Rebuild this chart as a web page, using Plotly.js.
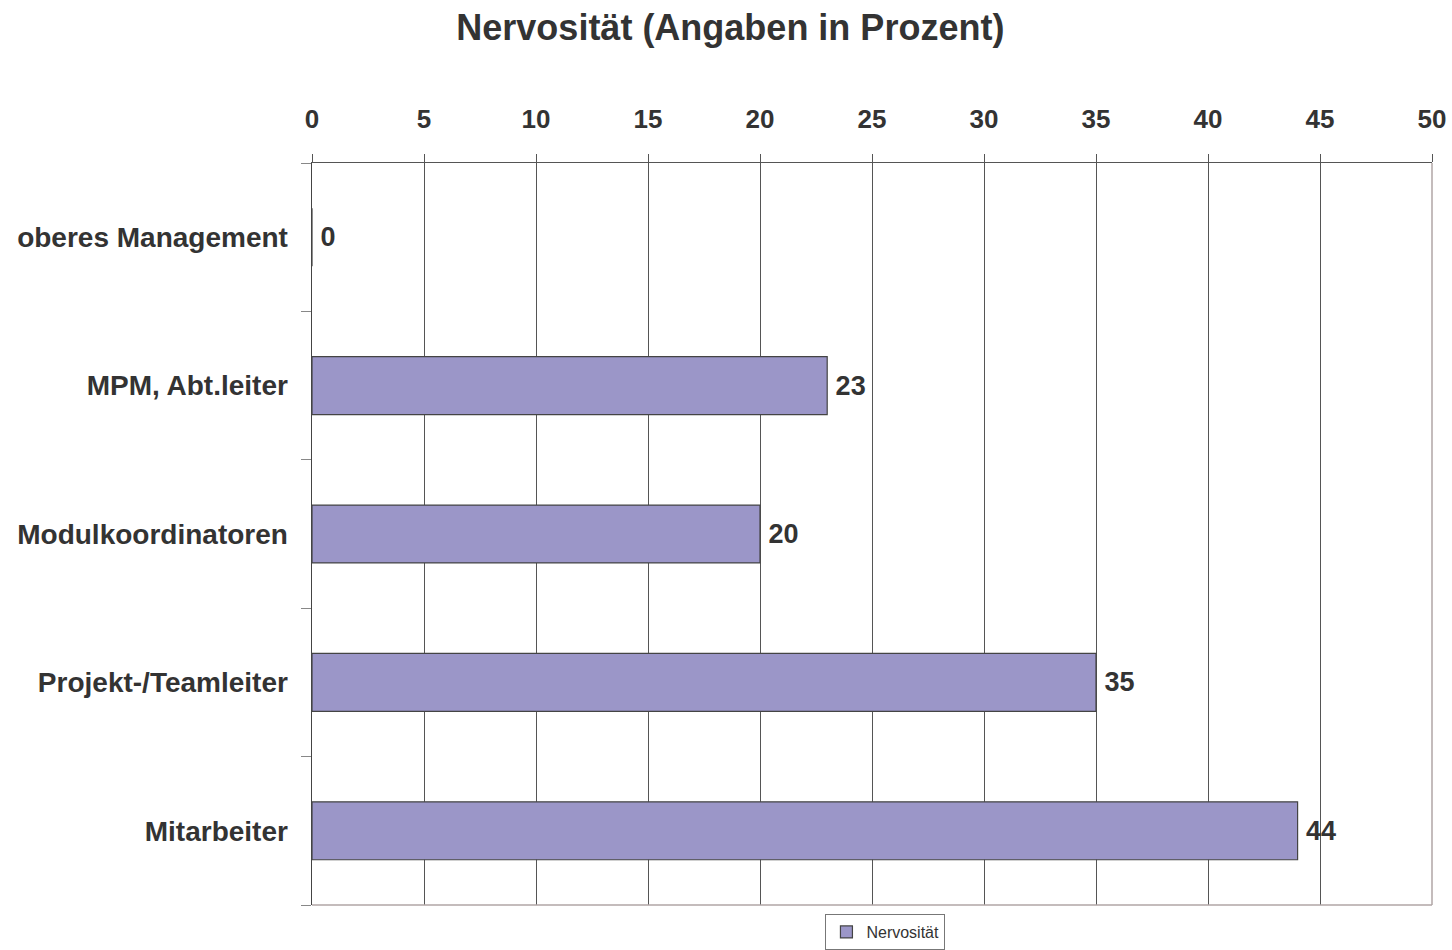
<!DOCTYPE html>
<html>
<head>
<meta charset="utf-8">
<script src="https://cdn.plot.ly/plotly-3.0.1.min.js"></script>
<style>html,body{margin:0;padding:0;background:#fff;}#chart{width:1452px;height:950px;}</style>
</head>
<body>
<div id="chart"></div>
<script>
const categories = ["oberes Management", "MPM, Abt.leiter", "Modulkoordinatoren", "Projekt-/Teamleiter", "Mitarbeiter"];
const values = [0, 23, 20, 35, 44];
const seriesName = "Nervosität";
const xTicks = [0, 5, 10, 15, 20, 25, 30, 35, 40, 45, 50];

const FONT = "Liberation Sans, Arial, Helvetica, sans-serif";

const trace = {
  type: "bar",
  orientation: "h",
  x: values,
  y: categories,
  name: seriesName,
  text: values.map(v => "\u2009<b>" + v + "</b>"),
  textposition: "outside",
  constraintext: "none",
  cliponaxis: false,
  textfont: {family: FONT, size: 27, color: "#333333"},
  marker: {color: "#9b96c8", line: {color: "#444444", width: 1.2}},
  width: 0.39,
  showlegend: true
};

const layout = {
  width: 1452, height: 950,
  margin: {l: 312, r: 20, t: 163, b: 45},
  paper_bgcolor: "#ffffff",
  plot_bgcolor: "#ffffff",
  font: {family: FONT, color: "#333333"},
  title: {
    text: "<b>Nervosität (Angaben in Prozent)</b>",
    font: {family: FONT, size: 36, color: "#333333"},
    x: 0.503, xanchor: "center", y: 0.971, yanchor: "middle"
  },
  xaxis: {
    side: "top",
    range: [0, 50],
    tickvals: xTicks,
    ticktext: xTicks.map(v => "<b>" + v + "</b>"),
    tickfont: {family: FONT, size: 26, color: "#333333"},
    ticks: "outside", ticklen: 8, tickcolor: "#555555", tickwidth: 1,
    ticklabelstandoff: 15,
    showgrid: true, gridcolor: "#555555", gridwidth: 1,
    showline: true, linecolor: "#555555", linewidth: 1.5,
    zeroline: false,
    fixedrange: true
  },
  yaxis: {
    type: "category",
    autorange: "reversed",
    tickvals: categories,
    ticktext: categories.map(c => "<b>" + c + "</b>"),
    tickfont: {family: FONT, size: 28, color: "#333333"},
    ticks: "outside", ticklen: 10, tickcolor: "#888888", tickwidth: 1,
    tickson: "boundaries",
    ticklabelstandoff: 17,
    showgrid: false,
    showline: true, linecolor: "#444444", linewidth: 1.5,
    zeroline: false,
    fixedrange: true
  },
  shapes: [
    {type: "line", xref: "paper", yref: "paper", x0: 0, x1: 1, y0: 0, y1: 0, line: {color: "#b0a6a6", width: 1.5}},
    {type: "line", xref: "paper", yref: "paper", x0: 1, x1: 1, y0: 0, y1: 1, line: {color: "#b0a6a6", width: 1.5}}
  ],
  legend: {
    orientation: "h",
    xref: "paper", x: 0.512, xanchor: "center",
    yref: "container", y: 0.0, yanchor: "bottom",
    bordercolor: "#777777", borderwidth: 1,
    font: {family: FONT, size: 16, color: "#333333"},
    bgcolor: "#ffffff",
    itemwidth: 30,
    tracegroupgap: 0
  },
  showlegend: true
};

Plotly.newPlot("chart", [trace], layout, {displayModeBar: false, staticPlot: true});
</script>
</body>
</html>
